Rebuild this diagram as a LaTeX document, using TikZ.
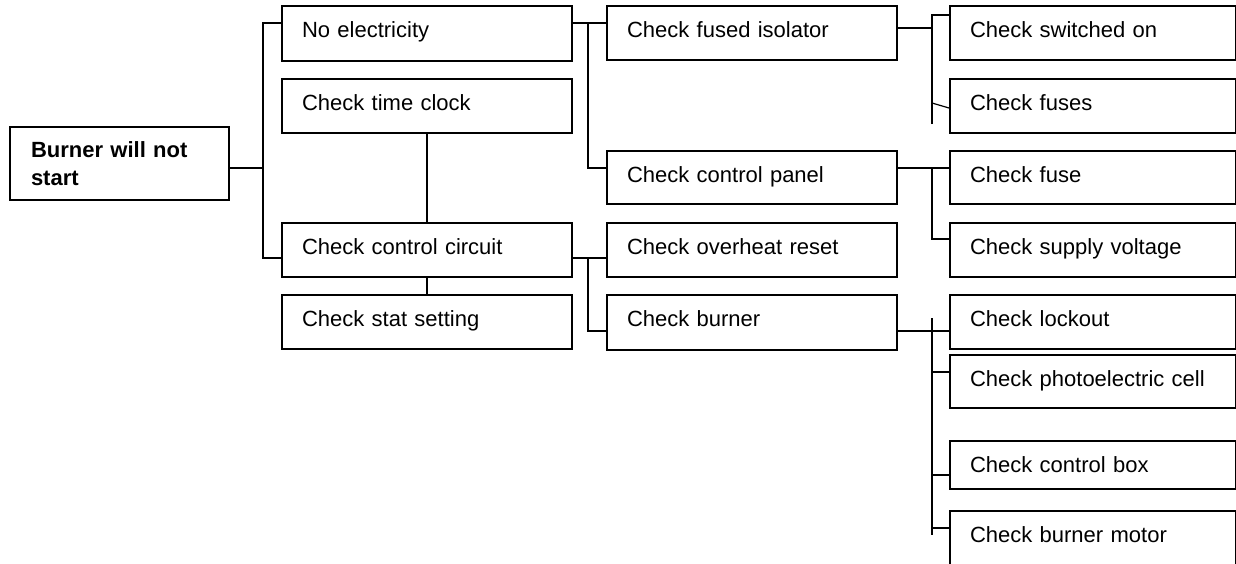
\documentclass[tikz,border=0pt]{standalone}
\usepackage{fontspec}
\setmainfont{Liberation Sans}

\begin{document}
\begin{tikzpicture}[x=1pt, y=-1pt,
    box/.style={draw, line width=2pt, anchor=north west, inner xsep=20pt, inner ysep=0pt,
                text width=250pt, align=left, text height=31pt, text depth=23pt,
                font=\fontsize{22pt}{28pt}\selectfont},
    rootbox/.style={draw, line width=2pt, anchor=north west, inner xsep=21pt, inner ysep=0pt,
                text width=177pt, align=left, minimum height=73pt,
                font=\fontsize{22pt}{28pt}\selectfont\bfseries},
    link/.style={line width=1.2pt}]
  \clip (0,0) rectangle (1236,563);

  \node[rootbox] (root) at (9,126) {Burner will not\\start};

  % first column
  \node[box, text depth=24pt] (noelec) at (281,5) {No electricity};
  \node[box] (timeclk) at (281,78) {Check time clock};
  \node[box] (ctrlcct) at (281,222) {Check control circuit};
  \node[box] (statset) at (281,294) {Check stat setting};

  % second column
  \node[box] (isol) at (606,5) {Check fused isolator};
  \node[box, text depth=22pt] (panel) at (606,150) {Check control panel};
  \node[box] (overheat) at (606,222) {Check overheat reset};
  \node[box, text depth=24pt] (burner) at (606,294) {Check burner};

  % third column
  \node[box, text width=246pt] (switched) at (949,5) {Check switched on};
  \node[box, text width=246pt] (fuses) at (949,78) {Check fuses};
  \node[box, text width=246pt, text depth=22pt] (fuse) at (949,150) {Check fuse};
  \node[box, text width=246pt] (supply) at (949,222) {Check supply voltage};
  \node[box, text width=246pt] (lockout) at (949,294) {Check lockout};
  \node[box, text width=246pt, text depth=22pt] (photo) at (949,354) {Check photoelectric cell};
  \node[box, text width=246pt, text depth=17pt] (ctrlbox) at (949,440) {Check control box};
  \node[box, text width=246pt, text depth=60pt] (motor) at (949,510) {Check burner motor};

  % links
  \draw[link] (root.east |- 0,168) -- (263,168);
  \draw[link] (noelec.west |- 0,23) -| (263,258) -- (ctrlcct.west |- 0,258);
  \draw[link] (timeclk.south) -- (ctrlcct.north);
  \draw[link] (ctrlcct.south) -- (statset.north);

  \draw[link] (noelec.east |- 0,23) -- (isol.west |- 0,23);
  \draw[link] (588,23) |- (panel.west |- 0,168);
  \draw[link] (ctrlcct.east |- 0,258) -- (overheat.west |- 0,258);
  \draw[link] (588,258) |- (burner.west |- 0,331);

  \draw[link] (isol.east |- 0,28) -- (932,28);
  \draw[link] (932,124) -- (932,15) -- (switched.west |- 0,15);
  \draw[link] (932,103) -- (fuses.west |- 0,108);
  \draw[link] (panel.east |- 0,168) -- (fuse.west |- 0,168);
  \draw[link] (932,168) |- (supply.west |- 0,239);

  \draw[link] (burner.east |- 0,331) -- (lockout.west |- 0,331);
  \draw[link] (932,318) -- (932,535);
  \draw[link] (932,372) -- (photo.west |- 0,372);
  \draw[link] (932,475) -- (ctrlbox.west |- 0,475);
  \draw[link] (932,528) -- (motor.west |- 0,528);
\end{tikzpicture}
\end{document}
